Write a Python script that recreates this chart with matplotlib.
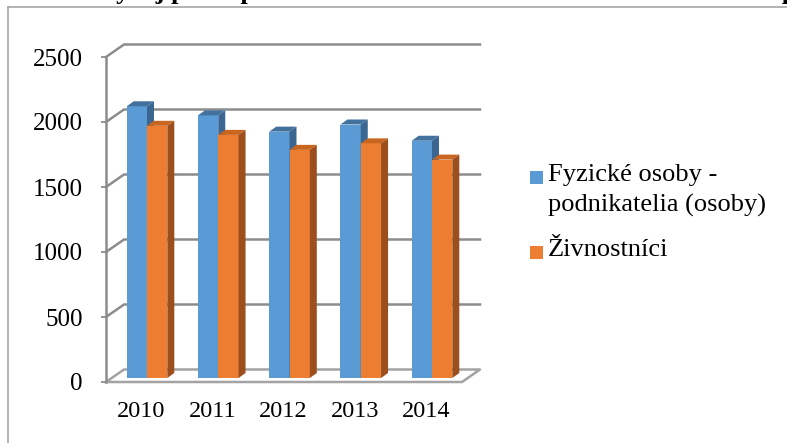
import matplotlib
matplotlib.use('Agg')
import matplotlib.pyplot as plt
from matplotlib.patches import Polygon, Rectangle
from matplotlib.lines import Line2D

# data
years = ['2010', '2011', '2012', '2013', '2014']
fyzicke_osoby = [2090, 2020, 1895, 1950, 1825]
zivnostnici = [1940, 1870, 1755, 1805, 1680]
y_ticks = [0, 500, 1000, 1500, 2000, 2500]
series_names = ['Fyzické osoby -\npodnikatelia (osoby)', 'Živnostníci']
title = 'Graf 1: Vývoj počtu podnikateľov v obci v rokoch 2010 - 2014 a ich spracovanie'

plt.rcParams['font.family'] = ['Liberation Serif', 'DejaVu Serif']

W, H = 787, 443
fig = plt.figure(figsize=(W / 100, H / 100), dpi=100)

# pixel geometry of the fake 3d box
px_cat = 71.25   # px per category
px_val = 0.13    # px per unit of value
x0_px, y0_px = 106, 382   # front left bottom corner
cat0_px = 141

xmin = (x0_px - cat0_px) / px_cat
xmax = xmin + (W - x0_px) / px_cat
ymax = y0_px / px_val
ax = fig.add_axes([x0_px / W, (H - y0_px) / H, (W - x0_px) / W, y0_px / H])
ax.set_xlim(xmin, xmax)
ax.set_ylim(0, ymax)

back_dx, back_dy = 18 / px_cat, 12.5 / px_val   # depth of the wall
bar_dx, bar_dy = 6 / px_cat, 4 / px_val         # bars sit a bit into the box
top_dx, top_dy = 7 / px_cat, 5 / px_val         # depth of a bar
bar_w = 20.3 / px_cat
xend = (480 - cat0_px) / px_cat

grid_col = '#8c8c8c'
for v in y_ticks[1:]:
    ax.plot([xmin, xmin + back_dx, xend], [v, v + back_dy, v + back_dy],
            color=grid_col, lw=1.8, clip_on=False, zorder=1)
# floor
ax.plot([xmin, xmin + back_dx, xend, xend - back_dx, xmin],
        [0, back_dy, back_dy, 0, 0], color='#a3a3a3', lw=1.8, clip_on=False, zorder=1)

series = [fyzicke_osoby, zivnostnici]
colors = [('#5b9bd5', '#41719c', '#3a6691'), ('#ed7d31', '#c8651f', '#9c4f1c')]
for j, vals in enumerate(series):
    front, topc, sidec = colors[j]
    xs = [i + bar_dx - bar_w + j * bar_w for i in range(len(years))]
    ax.bar(xs, vals, width=bar_w, bottom=bar_dy, align='edge', color=front,
           linewidth=0, zorder=3 + j)
    for xl, v in zip(xs, vals):
        yt = bar_dy + v
        ax.add_patch(Polygon([(xl, yt), (xl + bar_w, yt), (xl + bar_w + top_dx, yt + top_dy),
                              (xl + top_dx, yt + top_dy)], closed=True, color=topc,
                             lw=0, zorder=3 + j))
        ax.add_patch(Polygon([(xl + bar_w, bar_dy), (xl + bar_w, yt),
                              (xl + bar_w + top_dx, yt + top_dy), (xl + bar_w + top_dx, bar_dy + top_dy)],
                             closed=True, color=sidec, lw=0, zorder=3 + j))

for s in ['top', 'right', 'bottom']:
    ax.spines[s].set_visible(False)
ax.spines['left'].set_bounds(0, 2500)
ax.spines['left'].set_color(grid_col)
ax.spines['left'].set_linewidth(1.8)
ax.set_yticks(y_ticks)
ax.set_yticklabels([str(t) for t in y_ticks])
ax.tick_params(axis='y', direction='out', length=3.6, width=1.3, color=grid_col,
               labelsize=18, pad=13)
ax.set_xticks(range(len(years)))
ax.set_xticklabels(years)
ax.tick_params(axis='x', length=0, labelsize=17.5, pad=14)
ax.patch.set_visible(False)

# legend, square next to the first line of each label
leg_x = 530 / W
sq_w, sq_h = 13 / W, 13 / H
for name, col, line1_px in zip(series_names, [c[0] for c in colors], [177, 252]):
    fig.add_artist(Rectangle((leg_x, 1 - (line1_px + 6.5) / H), sq_w, sq_h,
                             transform=fig.transFigure, color=col, lw=0))
    fig.text(548 / W, 1 - (line1_px - 13) / H, name, fontsize=19, va='top', ha='left',
             linespacing=1.45)

# cut off title and outer frame
fig.text(8 / W, 1 + 0.5 / H, title, fontsize=19, fontweight='bold', va='baseline', ha='left')
fig.add_artist(Line2D([8 / W, 8 / W], [0, 1 - 7 / H], transform=fig.transFigure,
                      color='#a6a6a6', lw=1.2))
fig.add_artist(Line2D([8 / W, 1], [1 - 7 / H, 1 - 7 / H], transform=fig.transFigure,
                      color='#a6a6a6', lw=1.2))

fig.savefig('out.png', dpi=100)
